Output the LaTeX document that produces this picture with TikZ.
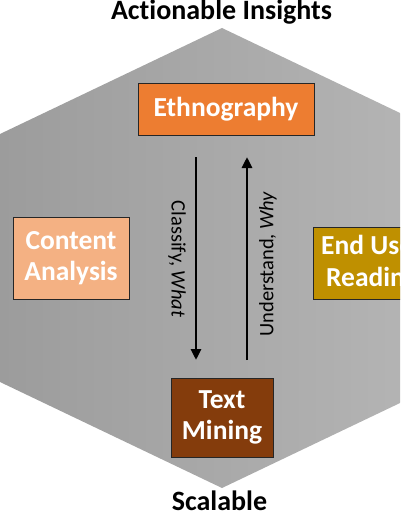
\documentclass[tikz,border=0pt]{standalone}
\usepackage{fontspec}
\setmainfont[Ligatures={NoCommon,NoRare}]{Carlito}
\usetikzlibrary{arrows.meta}
\definecolor{ethno}{HTML}{ED7D31}
\definecolor{content}{HTML}{F4B183}
\definecolor{enduser}{HTML}{BF9000}
\definecolor{textmining}{HTML}{843C0C}
\definecolor{hexleft}{RGB}{156,156,156}
\definecolor{hexright}{RGB}{182,182,182}
\begin{document}
\begin{tikzpicture}[x=1pt,y=-1pt,
  box/.style={draw=black!85, line width=0.9pt, text=white, align=center, inner sep=0pt,
    font=\fontsize{27.5}{31.5}\selectfont\bfseries},
  heading/.style={font=\fontsize{28}{30}\selectfont\bfseries, inner sep=0pt},
  side/.style={font=\fontsize{20.5}{22}\selectfont, inner sep=0pt},
  flow/.style={line width=2.8pt, -{Triangle[length=11pt,width=10pt]}}]
\useasboundingbox (0,0) rectangle (400,516);
\begin{scope}
\clip (0,0) rectangle (400,516);
\shade[left color=hexleft, right color=hexright]
  (222,28) -- (444,134) -- (444,382) -- (222,488) -- (0,382) -- (0,134) -- cycle;
\node[box, fill=ethno, minimum width=176pt, minimum height=52pt] (ethno) at (226,109) {Ethnography};
\node[box, fill=content, minimum width=116pt, minimum height=82pt] (content) at (71,258) {Content\\Analysis};
\node[box, fill=enduser, minimum width=118pt, minimum height=72pt] (enduser) at (372,263) {End User\\Reading};
\node[box, fill=textmining, minimum width=102pt, minimum height=79pt] (textmining) at (222,417.5) {Text\\Mining};
\node[heading, anchor=base] (top) at (221.5,20) {Actionable Insights};
\node[heading, anchor=base] (bottom) at (219.5,510) {Scalable};
\coordinate (dstart) at (196,157);
\coordinate (dend) at (196,360);
\coordinate (ustart) at (247,360);
\coordinate (uend) at (247,157);
\draw[flow] (dstart) -- (dend);
\draw[flow] (ustart) -- (uend);
\node[side, rotate=-90] (classify) at (177,259) {Classify, \textit{What}};
\node[side, rotate=90] (understand) at (268,264) {Understand, \textit{Why}};
\end{scope}
\end{tikzpicture}
\end{document}
